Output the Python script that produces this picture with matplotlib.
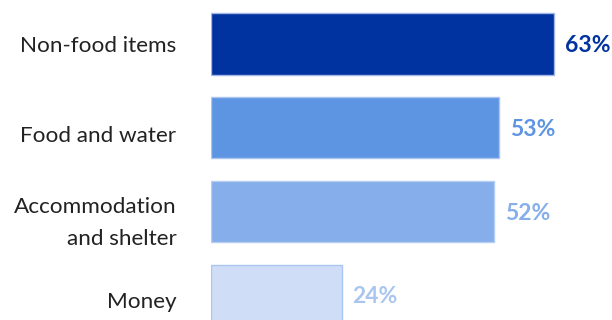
import matplotlib.pyplot as plt
from matplotlib.transforms import ScaledTranslation

# data
categories = ['Non-food items', 'Food and water', 'Accommodation\nand shelter', 'Money']
values = [63, 53, 52, 24]
labels = ['63%', '53%', '52%', '24%']

bar_colors = ['#0033A0', '#5E95E3', '#85AEEA', '#CFDEF6']
edge_colors = ['#9FB6E6', '#A9C6F0', '#B4CDF2', '#A9C6F0']
text_colors = ['#0033A0', '#5E95E3', '#85AEEA', '#A9C6F0']

plt.rcParams['font.family'] = ['Lato', 'DejaVu Sans']

fig = plt.figure(figsize=(6.12, 3.2), dpi=100)
ax = fig.add_axes([211 / 612, 0, 381 / 612, 1])

pos = list(range(len(values)))
ax.barh(pos, values, height=0.73, color=bar_colors,
        edgecolor=edge_colors, linewidth=1)

for i, v in enumerate(values):
    ax.text(v + 2.0, i + 0.02, labels[i], color=text_colors[i],
            fontsize=16.5, fontweight='bold', va='center', ha='left',
            clip_on=False)

ax.set_xlim(0, 70)
ax.set_ylim(3.297, -0.526)

ax.set_yticks(pos)
ax.set_yticklabels(categories, fontsize=16.2, color='#222222',
                   linespacing=1.75)
ax.tick_params(axis='y', length=0, pad=25)
# the original sets most category labels a few pixels below bar centre
nudge_px = [0, 6, 4, 5]
for t, d in zip(ax.get_yticklabels(), nudge_px):
    t.set_transform(t.get_transform() +
                    ScaledTranslation(0, -d / 100, fig.dpi_scale_trans))
ax.set_xticks([])
for s in ax.spines.values():
    s.set_visible(False)

fig.savefig('out.png', dpi=100)
